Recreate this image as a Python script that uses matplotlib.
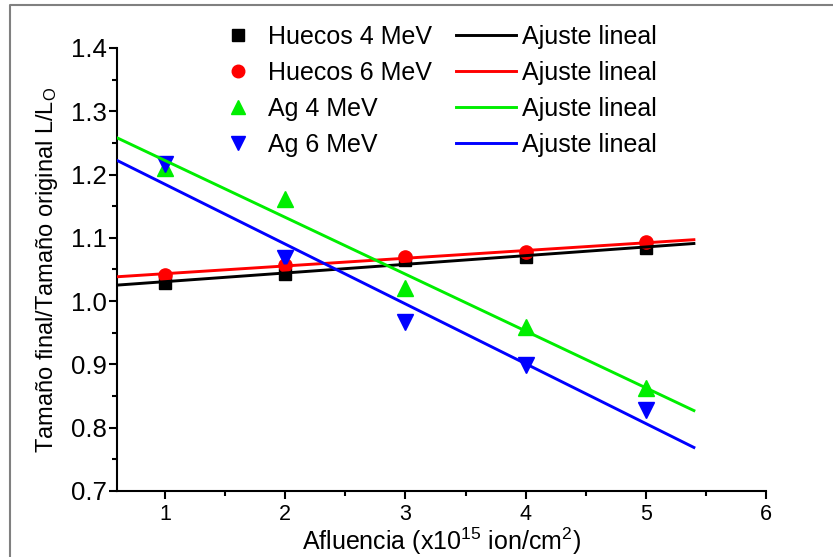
import matplotlib
matplotlib.use('Agg')
import matplotlib.pyplot as plt
import numpy as np
from matplotlib.lines import Line2D
from matplotlib.ticker import MultipleLocator

plt.rcParams['font.family'] = ['Liberation Sans', 'DejaVu Sans']
plt.rcParams['mathtext.fontset'] = 'custom'
plt.rcParams['mathtext.rm'] = 'Liberation Sans'
plt.rcParams['mathtext.it'] = 'Liberation Sans:italic'
plt.rcParams['mathtext.default'] = 'regular'

# ---- data ----
fluence = [1, 2, 3, 4, 5]
huecos_4mev = [1.029, 1.043, 1.065, 1.070, 1.084]
huecos_6mev = [1.042, 1.057, 1.070, 1.077, 1.093]
ag_4mev = [1.210, 1.161, 1.021, 0.959, 0.862]
ag_6mev = [1.216, 1.068, 0.967, 0.899, 0.828]
fit_range = [0.6, 5.4]

series_labels = ['Huecos 4 MeV', 'Huecos 6 MeV', 'Ag 4 MeV', 'Ag 6 MeV']
fit_label = 'Ajuste lineal'
colors = ['black', '#ff0000', '#00ee00', '#0000ff']
markers = ['s', 'o', '^', 'v']
msizes = [8.5, 9.5, 11, 11]

fig = plt.figure(figsize=(8.33, 5.57), dpi=100)
ax = fig.add_axes([117/833, 1-491/557, 649/833, 443/557])

series = [huecos_4mev, huecos_6mev, ag_4mev, ag_6mev]
marker_handles = []
line_handles = []
xf = np.array(fit_range)
for ys, c, m, ms, lab in zip(series, colors, markers, msizes, series_labels):
    ax.plot(fluence, ys, linestyle='none', marker=m, ms=ms, color=c, zorder=3, clip_on=False)
    k, b = np.polyfit(fluence, ys, 1)
    ax.plot(xf, k*xf + b, color=c, lw=2.1, zorder=4)
    marker_handles.append(Line2D([], [], linestyle='none', marker=m, ms=ms*0.95, color=c))
    line_handles.append(Line2D([], [], color=c, lw=2.1))

ax.set_xlim(0.6, 6)
ax.set_ylim(0.7, 1.4)
ax.xaxis.set_major_locator(MultipleLocator(1))
ax.xaxis.set_minor_locator(MultipleLocator(0.5))
ax.yaxis.set_major_locator(MultipleLocator(0.1))
ax.yaxis.set_minor_locator(MultipleLocator(0.05))
ax.yaxis.set_major_formatter(matplotlib.ticker.FormatStrFormatter('%.1f'))

for s in ['top', 'right']:
    ax.spines[s].set_visible(False)
for s in ['left', 'bottom']:
    ax.spines[s].set_linewidth(1.5)

ax.tick_params(which='both', direction='out', width=1.5)
ax.tick_params(which='major', length=6)
ax.tick_params(which='minor', length=3.5)
ax.tick_params(axis='x', which='major', labelsize=15.5, pad=3)
ax.tick_params(axis='y', which='major', labelsize=18.5, pad=1.5)

ax.set_xlabel('Afluencia (x10$^{15}$ ion/cm$^{2}$)', fontsize=18, labelpad=0.5)
ax.set_ylabel('Tamaño final/Tamaño original L/L$_{O}$', fontsize=17)
ax.yaxis.set_label_coords(-0.088, 0.5)

fs = 18
fpx = fs * 100 / 72
top_y = 1 - 24.8/557
leg1 = fig.legend(marker_handles, series_labels, loc='upper left',
                  bbox_to_anchor=(225.5/833, top_y), bbox_transform=fig.transFigure,
                  frameon=False, borderpad=0, borderaxespad=0, handlelength=1.0,
                  handletextpad=17.5/fpx, labelspacing=0.48, fontsize=fs, numpoints=1)
leg2 = fig.legend(line_handles, [fit_label]*4, loc='upper left',
                  bbox_to_anchor=(456/833, top_y), bbox_transform=fig.transFigure,
                  frameon=False, borderpad=0, borderaxespad=0, handlelength=60/fpx,
                  handletextpad=6/fpx, labelspacing=0.48, fontsize=fs)

fig.add_artist(Line2D([10/833, 10/833, 1], [0, 1-5/557, 1-5/557],
                      transform=fig.transFigure, color='#808080', lw=1.5))

fig.savefig('out.png', dpi=100)
